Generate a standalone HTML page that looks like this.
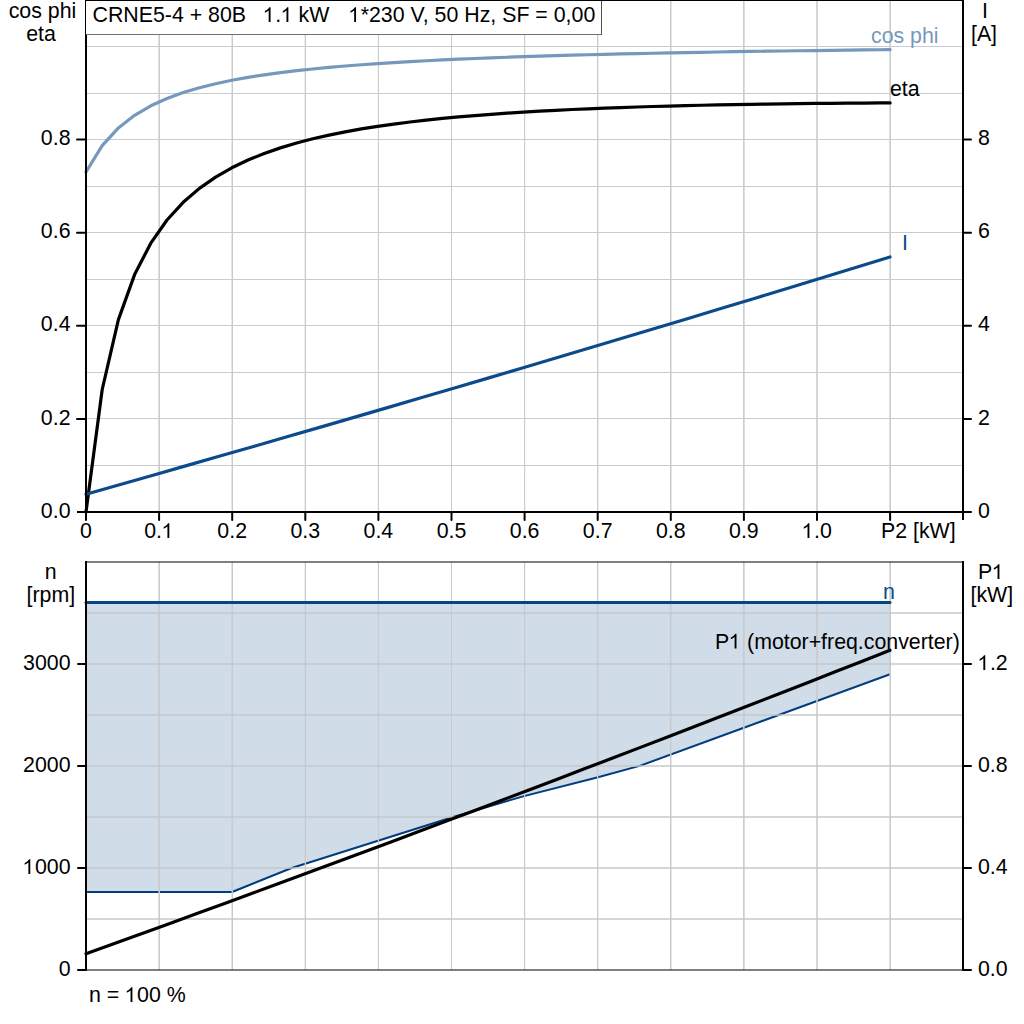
<!DOCTYPE html>
<html><head><meta charset="utf-8"><style>
html,body{margin:0;padding:0;background:#fff;width:1024px;height:1024px;overflow:hidden}
svg{display:block}
text{font-family:"Liberation Sans", sans-serif;font-size:21.33px;fill:#000}
.o{fill-opacity:0}
</style></head><body>
<svg width="1024" height="1024" viewBox="0 0 1024 1024">
<rect width="1024" height="1024" fill="#fff"/>
<line x1="158.5" y1="0" x2="158.5" y2="511" stroke="#c8cbcf" stroke-opacity="0.64" stroke-width="1"/>
<line x1="159.5" y1="0" x2="159.5" y2="511" stroke="#c8cbcf" stroke-opacity="0.96" stroke-width="1"/>
<line x1="231.5" y1="0" x2="231.5" y2="511" stroke="#c8cbcf" stroke-opacity="0.48" stroke-width="1"/>
<line x1="232.5" y1="0" x2="232.5" y2="511" stroke="#c8cbcf" stroke-opacity="1.00" stroke-width="1"/>
<line x1="304.5" y1="0" x2="304.5" y2="511" stroke="#c8cbcf" stroke-opacity="0.32" stroke-width="1"/>
<line x1="305.5" y1="0" x2="305.5" y2="511" stroke="#c8cbcf" stroke-opacity="1.00" stroke-width="1"/>
<line x1="377.5" y1="0" x2="377.5" y2="511" stroke="#c8cbcf" stroke-opacity="0.16" stroke-width="1"/>
<line x1="378.5" y1="0" x2="378.5" y2="511" stroke="#c8cbcf" stroke-opacity="1.00" stroke-width="1"/>
<line x1="451.5" y1="0" x2="451.5" y2="511" stroke="#c8cbcf" stroke-opacity="1.00" stroke-width="1"/>
<line x1="524.5" y1="0" x2="524.5" y2="511" stroke="#c8cbcf" stroke-opacity="1.00" stroke-width="1"/>
<line x1="525.5" y1="0" x2="525.5" y2="511" stroke="#c8cbcf" stroke-opacity="0.16" stroke-width="1"/>
<line x1="597.5" y1="0" x2="597.5" y2="511" stroke="#c8cbcf" stroke-opacity="1.00" stroke-width="1"/>
<line x1="598.5" y1="0" x2="598.5" y2="511" stroke="#c8cbcf" stroke-opacity="0.32" stroke-width="1"/>
<line x1="670.5" y1="0" x2="670.5" y2="511" stroke="#c8cbcf" stroke-opacity="1.00" stroke-width="1"/>
<line x1="671.5" y1="0" x2="671.5" y2="511" stroke="#c8cbcf" stroke-opacity="0.48" stroke-width="1"/>
<line x1="743.5" y1="0" x2="743.5" y2="511" stroke="#c8cbcf" stroke-opacity="0.96" stroke-width="1"/>
<line x1="744.5" y1="0" x2="744.5" y2="511" stroke="#c8cbcf" stroke-opacity="0.64" stroke-width="1"/>
<line x1="816.5" y1="0" x2="816.5" y2="511" stroke="#c8cbcf" stroke-opacity="0.80" stroke-width="1"/>
<line x1="817.5" y1="0" x2="817.5" y2="511" stroke="#c8cbcf" stroke-opacity="0.80" stroke-width="1"/>
<line x1="889.5" y1="0" x2="889.5" y2="511" stroke="#c8cbcf" stroke-opacity="0.64" stroke-width="1"/>
<line x1="890.5" y1="0" x2="890.5" y2="511" stroke="#c8cbcf" stroke-opacity="0.96" stroke-width="1"/>
<line x1="87" y1="465.5" x2="962" y2="465.5" stroke="#c8cbcf" stroke-width="1"/>
<line x1="87" y1="418.5" x2="962" y2="418.5" stroke="#c8cbcf" stroke-width="1"/>
<line x1="87" y1="372.5" x2="962" y2="372.5" stroke="#c8cbcf" stroke-width="1"/>
<line x1="87" y1="325.5" x2="962" y2="325.5" stroke="#c8cbcf" stroke-width="1"/>
<line x1="87" y1="279.5" x2="962" y2="279.5" stroke="#c8cbcf" stroke-width="1"/>
<line x1="87" y1="232.5" x2="962" y2="232.5" stroke="#c8cbcf" stroke-width="1"/>
<line x1="87" y1="186.5" x2="962" y2="186.5" stroke="#c8cbcf" stroke-width="1"/>
<line x1="87" y1="139.5" x2="962" y2="139.5" stroke="#c8cbcf" stroke-width="1"/>
<line x1="87" y1="93.5" x2="962" y2="93.5" stroke="#c8cbcf" stroke-width="1"/>
<line x1="87" y1="46.5" x2="962" y2="46.5" stroke="#c8cbcf" stroke-width="1"/>
<polyline points="86.00,172.02 102.20,145.56 118.40,127.90 134.60,115.28 150.80,105.80 167.00,98.44 183.20,92.54 199.40,87.72 215.60,83.70 231.80,80.30 248.00,77.38 264.20,74.86 280.40,72.65 296.60,70.70 312.80,68.97 329.00,67.42 345.20,66.03 361.40,64.77 377.60,63.63 393.80,62.59 410.00,61.63 426.20,60.75 442.40,59.94 458.60,59.19 474.80,58.50 491.00,57.85 507.20,57.25 523.40,56.68 539.60,56.16 555.80,55.66 572.00,55.19 588.20,54.76 604.40,54.34 620.60,53.95 636.80,53.58 653.00,53.23 669.20,52.90 685.40,52.58 701.60,52.28 717.80,52.00 734.00,51.72 750.20,51.46 766.40,51.21 782.60,50.98 798.80,50.75 815.00,50.53 831.20,50.32 847.40,50.12 863.60,49.93 879.80,49.75 890.10,49.63" fill="none" stroke="#7699bb" stroke-width="3.2" stroke-linejoin="round" stroke-linecap="round"/>
<polyline points="86.00,512.00 102.20,389.51 118.40,319.66 134.60,274.59 150.80,243.16 167.00,220.03 183.20,202.32 199.40,188.35 215.60,177.08 231.80,167.80 248.00,160.05 264.20,153.49 280.40,147.88 296.60,143.03 312.80,138.80 329.00,135.10 345.20,131.84 361.40,128.94 377.60,126.37 393.80,124.06 410.00,121.99 426.20,120.13 442.40,118.45 458.60,116.92 474.80,115.54 491.00,114.29 507.20,113.15 523.40,112.11 539.60,111.16 555.80,110.30 572.00,109.51 588.20,108.79 604.40,108.13 620.60,107.53 636.80,106.98 653.00,106.48 669.20,106.03 685.40,105.61 701.60,105.23 717.80,104.89 734.00,104.58 750.20,104.30 766.40,104.05 782.60,103.83 798.80,103.63 815.00,103.45 831.20,103.30 847.40,103.16 863.60,103.05 879.80,102.95 890.10,102.90" fill="none" stroke="#000" stroke-width="3.2" stroke-linejoin="round" stroke-linecap="round"/>
<polyline points="86.00,494.21 119.50,484.73 153.00,475.21 186.50,465.66 220.00,456.08 253.50,446.45 287.00,436.80 320.50,427.11 354.00,417.38 387.50,407.62 421.00,397.82 454.50,387.99 488.00,378.12 521.50,368.22 555.00,358.28 588.50,348.31 622.00,338.30 655.50,328.26 689.00,318.18 722.50,308.07 756.00,297.92 789.50,287.74 823.00,277.52 856.50,267.27 890.00,256.98" fill="none" stroke="#0b4a8b" stroke-width="3.2" stroke-linecap="round" stroke-linejoin="round"/>
<line x1="86" y1="0" x2="86" y2="520" stroke="#000" stroke-width="2"/>
<line x1="963" y1="0" x2="963" y2="520" stroke="#000" stroke-width="2"/>
<line x1="77" y1="512" x2="971" y2="512" stroke="#000" stroke-width="2"/>
<line x1="86" y1="0.5" x2="963" y2="0.5" stroke="#000" stroke-width="1"/>
<line x1="77" y1="418.9" x2="86" y2="418.9" stroke="#000" stroke-width="2" stroke-linecap="round"/>
<line x1="77" y1="325.8" x2="86" y2="325.8" stroke="#000" stroke-width="2" stroke-linecap="round"/>
<line x1="77" y1="232.7" x2="86" y2="232.7" stroke="#000" stroke-width="2" stroke-linecap="round"/>
<line x1="77" y1="139.6" x2="86" y2="139.6" stroke="#000" stroke-width="2" stroke-linecap="round"/>
<text x="70.5" y="518" text-anchor="end">0.0</text>
<text x="70.5" y="425" text-anchor="end">0.2</text>
<text x="70.5" y="331" text-anchor="end">0.4</text>
<text x="70.5" y="238" text-anchor="end">0.6</text>
<text x="70.5" y="145" text-anchor="end">0.8</text>
<line x1="963" y1="512.0" x2="971" y2="512.0" stroke="#000" stroke-width="2" stroke-linecap="round"/>
<text x="978" y="518">0</text>
<line x1="963" y1="418.9" x2="971" y2="418.9" stroke="#000" stroke-width="2" stroke-linecap="round"/>
<text x="978" y="425">2</text>
<line x1="963" y1="325.8" x2="971" y2="325.8" stroke="#000" stroke-width="2" stroke-linecap="round"/>
<text x="978" y="331">4</text>
<line x1="963" y1="232.7" x2="971" y2="232.7" stroke="#000" stroke-width="2" stroke-linecap="round"/>
<text x="978" y="238">6</text>
<line x1="963" y1="139.6" x2="971" y2="139.6" stroke="#000" stroke-width="2" stroke-linecap="round"/>
<text x="978" y="145">8</text>
<line x1="86.00" y1="512" x2="86.00" y2="520" stroke="#000" stroke-width="2" stroke-linecap="round"/>
<text x="86.00" y="538" text-anchor="middle">0</text>
<line x1="159.10" y1="512" x2="159.10" y2="520" stroke="#000" stroke-width="2" stroke-linecap="round"/>
<text x="159.10" y="538" text-anchor="middle">0.<tspan class="o">1</tspan></text>
<line x1="232.20" y1="512" x2="232.20" y2="520" stroke="#000" stroke-width="2" stroke-linecap="round"/>
<text x="232.20" y="538" text-anchor="middle">0.2</text>
<line x1="305.30" y1="512" x2="305.30" y2="520" stroke="#000" stroke-width="2" stroke-linecap="round"/>
<text x="305.30" y="538" text-anchor="middle">0.3</text>
<line x1="378.40" y1="512" x2="378.40" y2="520" stroke="#000" stroke-width="2" stroke-linecap="round"/>
<text x="378.40" y="538" text-anchor="middle">0.4</text>
<line x1="451.50" y1="512" x2="451.50" y2="520" stroke="#000" stroke-width="2" stroke-linecap="round"/>
<text x="451.50" y="538" text-anchor="middle">0.5</text>
<line x1="524.60" y1="512" x2="524.60" y2="520" stroke="#000" stroke-width="2" stroke-linecap="round"/>
<text x="524.60" y="538" text-anchor="middle">0.6</text>
<line x1="597.70" y1="512" x2="597.70" y2="520" stroke="#000" stroke-width="2" stroke-linecap="round"/>
<text x="597.70" y="538" text-anchor="middle">0.7</text>
<line x1="670.80" y1="512" x2="670.80" y2="520" stroke="#000" stroke-width="2" stroke-linecap="round"/>
<text x="670.80" y="538" text-anchor="middle">0.8</text>
<line x1="743.90" y1="512" x2="743.90" y2="520" stroke="#000" stroke-width="2" stroke-linecap="round"/>
<text x="743.90" y="538" text-anchor="middle">0.9</text>
<line x1="817.00" y1="512" x2="817.00" y2="520" stroke="#000" stroke-width="2" stroke-linecap="round"/>
<text x="817.00" y="538" text-anchor="middle"><tspan class="o">1</tspan>.0</text>
<line x1="890.10" y1="512" x2="890.10" y2="520" stroke="#000" stroke-width="2" stroke-linecap="round"/>
<text x="881" y="538">P2 [kW]</text>
<text x="871" y="43" style="fill:#7699bb">cos phi</text>
<text x="890" y="96">eta</text>
<text x="902" y="250" style="fill:#0b4a8b">I</text>
<text x="42.5" y="18" text-anchor="middle">cos phi</text>
<text x="41" y="41" text-anchor="middle">eta</text>
<text x="985" y="18" text-anchor="middle">I</text>
<text x="984" y="41" text-anchor="middle">[A]</text>
<rect x="86" y="0.5" width="516" height="33.5" fill="#fff" stroke="none"/>
<line x1="86" y1="34.5" x2="602" y2="34.5" stroke="#707070" stroke-width="1"/>
<line x1="601.5" y1="0" x2="601.5" y2="35" stroke="#505050" stroke-width="1"/>
<line x1="86" y1="0.5" x2="602" y2="0.5" stroke="#000" stroke-width="1"/>
<text x="92.5" y="22">CRNE5-4 + 80B</text>
<text x="263.3" y="22"><tspan class="o">1</tspan>.<tspan class="o">1</tspan></text>
<text x="298.6" y="22">kW</text>
<text x="348.8" y="22"><tspan class="o">1</tspan>*230 V, 50 Hz, SF = 0,00</text>
<polygon points="86,602.5 890,602.5 890,674.3 640.5,765.6 598,777.3 524,796.1 451.6,817.5 291,868.3 232,892 86,892" fill="#d0dce8"/>
<polyline points="86,892 232,892 291,868.3 451.6,817.5 524,796.1 598,777.3 640.5,765.6 890,674.3" fill="none" stroke="#003d7d" stroke-width="2" stroke-linejoin="round"/>
<line x1="158.5" y1="562" x2="158.5" y2="970" stroke="#c8cacd" stroke-opacity="0.64" stroke-width="1"/>
<line x1="159.5" y1="562" x2="159.5" y2="970" stroke="#c8cacd" stroke-opacity="0.96" stroke-width="1"/>
<line x1="231.5" y1="562" x2="231.5" y2="970" stroke="#c8cacd" stroke-opacity="0.48" stroke-width="1"/>
<line x1="232.5" y1="562" x2="232.5" y2="970" stroke="#c8cacd" stroke-opacity="1.00" stroke-width="1"/>
<line x1="304.5" y1="562" x2="304.5" y2="970" stroke="#c8cacd" stroke-opacity="0.32" stroke-width="1"/>
<line x1="305.5" y1="562" x2="305.5" y2="970" stroke="#c8cacd" stroke-opacity="1.00" stroke-width="1"/>
<line x1="377.5" y1="562" x2="377.5" y2="970" stroke="#c8cacd" stroke-opacity="0.16" stroke-width="1"/>
<line x1="378.5" y1="562" x2="378.5" y2="970" stroke="#c8cacd" stroke-opacity="1.00" stroke-width="1"/>
<line x1="451.5" y1="562" x2="451.5" y2="970" stroke="#c8cacd" stroke-opacity="1.00" stroke-width="1"/>
<line x1="524.5" y1="562" x2="524.5" y2="970" stroke="#c8cacd" stroke-opacity="1.00" stroke-width="1"/>
<line x1="525.5" y1="562" x2="525.5" y2="970" stroke="#c8cacd" stroke-opacity="0.16" stroke-width="1"/>
<line x1="597.5" y1="562" x2="597.5" y2="970" stroke="#c8cacd" stroke-opacity="1.00" stroke-width="1"/>
<line x1="598.5" y1="562" x2="598.5" y2="970" stroke="#c8cacd" stroke-opacity="0.32" stroke-width="1"/>
<line x1="670.5" y1="562" x2="670.5" y2="970" stroke="#c8cacd" stroke-opacity="1.00" stroke-width="1"/>
<line x1="671.5" y1="562" x2="671.5" y2="970" stroke="#c8cacd" stroke-opacity="0.48" stroke-width="1"/>
<line x1="743.5" y1="562" x2="743.5" y2="970" stroke="#c8cacd" stroke-opacity="0.96" stroke-width="1"/>
<line x1="744.5" y1="562" x2="744.5" y2="970" stroke="#c8cacd" stroke-opacity="0.64" stroke-width="1"/>
<line x1="816.5" y1="562" x2="816.5" y2="970" stroke="#c8cacd" stroke-opacity="0.80" stroke-width="1"/>
<line x1="817.5" y1="562" x2="817.5" y2="970" stroke="#c8cacd" stroke-opacity="0.80" stroke-width="1"/>
<line x1="889.5" y1="562" x2="889.5" y2="970" stroke="#c8cacd" stroke-opacity="0.64" stroke-width="1"/>
<line x1="890.5" y1="562" x2="890.5" y2="970" stroke="#c8cacd" stroke-opacity="0.96" stroke-width="1"/>
<line x1="87" y1="919.0" x2="962" y2="919.0" stroke="rgb(197,198,202)" stroke-opacity="0.72" stroke-width="2"/>
<line x1="87" y1="868.0" x2="962" y2="868.0" stroke="rgb(197,198,202)" stroke-opacity="0.72" stroke-width="2"/>
<line x1="87" y1="817.0" x2="962" y2="817.0" stroke="rgb(197,198,202)" stroke-opacity="0.72" stroke-width="2"/>
<line x1="87" y1="766.0" x2="962" y2="766.0" stroke="rgb(197,198,202)" stroke-opacity="0.72" stroke-width="2"/>
<line x1="87" y1="715.0" x2="962" y2="715.0" stroke="rgb(197,198,202)" stroke-opacity="0.72" stroke-width="2"/>
<line x1="87" y1="664.0" x2="962" y2="664.0" stroke="rgb(197,198,202)" stroke-opacity="0.72" stroke-width="2"/>
<line x1="87" y1="613.0" x2="962" y2="613.0" stroke="rgb(197,198,202)" stroke-opacity="0.72" stroke-width="2"/>
<line x1="86" y1="602.5" x2="890" y2="602.5" stroke="#054583" stroke-width="3" stroke-linecap="round"/>
<polyline points="86.00,953.81 113.72,943.80 141.45,933.76 169.17,923.68 196.90,913.57 224.62,903.43 252.34,893.25 280.07,883.04 307.79,872.80 335.52,862.53 363.24,852.23 390.97,841.89 418.69,831.52 446.41,821.11 474.14,810.68 501.86,800.21 529.59,789.71 557.31,779.18 585.03,768.61 612.76,758.01 640.48,747.38 668.21,736.72 695.93,726.02 723.66,715.29 751.38,704.53 779.10,693.74 806.83,682.91 834.55,672.05 862.28,661.16 890.00,650.24" fill="none" stroke="#000" stroke-width="3.2" stroke-linecap="round" stroke-linejoin="round"/>
<line x1="86" y1="562" x2="963" y2="562" stroke="#000" stroke-width="1.15"/>
<line x1="86" y1="970" x2="963" y2="970" stroke="#000" stroke-width="1.1"/>
<line x1="86" y1="561" x2="86" y2="970" stroke="#000" stroke-width="2"/>
<line x1="963" y1="561" x2="963" y2="970" stroke="#000" stroke-width="2"/>
<line x1="78" y1="970.0" x2="86" y2="970.0" stroke="#000" stroke-width="2" stroke-linecap="round"/>
<text x="70.5" y="976" text-anchor="end">0</text>
<line x1="78" y1="868.0" x2="86" y2="868.0" stroke="#000" stroke-width="2" stroke-linecap="round"/>
<text x="70.5" y="874" text-anchor="end"><tspan class="o">1</tspan>000</text>
<line x1="78" y1="766.0" x2="86" y2="766.0" stroke="#000" stroke-width="2" stroke-linecap="round"/>
<text x="70.5" y="772" text-anchor="end">2000</text>
<line x1="78" y1="664.0" x2="86" y2="664.0" stroke="#000" stroke-width="2" stroke-linecap="round"/>
<text x="70.5" y="670" text-anchor="end">3000</text>
<line x1="963" y1="970.0" x2="971" y2="970.0" stroke="#000" stroke-width="2" stroke-linecap="round"/>
<text x="978" y="976">0.0</text>
<line x1="963" y1="868.0" x2="971" y2="868.0" stroke="#000" stroke-width="2" stroke-linecap="round"/>
<text x="978" y="874">0.4</text>
<line x1="963" y1="766.0" x2="971" y2="766.0" stroke="#000" stroke-width="2" stroke-linecap="round"/>
<text x="978" y="772">0.8</text>
<line x1="963" y1="664.0" x2="971" y2="664.0" stroke="#000" stroke-width="2" stroke-linecap="round"/>
<text x="978" y="670"><tspan class="o">1</tspan>.2</text>
<text x="50.8" y="579" text-anchor="middle">n</text>
<text x="50.8" y="602" text-anchor="middle">[rpm]</text>
<text x="991" y="579" text-anchor="middle">P<tspan class="o">1</tspan></text>
<text x="991.8" y="602" text-anchor="middle">[kW]</text>
<text x="883" y="598.5" style="fill:#0b4a8b">n</text>
<text x="715" y="648.5">P<tspan class="o">1</tspan> (motor+freq.converter)</text>
<text x="89" y="1002">n = <tspan class="o">1</tspan>00 %</text>
<path d="M696 0H516V1098Q451 1038 345 979Q239 920 155 890V1057Q306 1125 419 1221Q532 1318 579 1409H696Z" transform="translate(162.06,538.00) scale(0.010415,-0.010415)" fill="rgb(0, 0, 0)"/>
<path d="M696 0H516V1098Q451 1038 345 979Q239 920 155 890V1057Q306 1125 419 1221Q532 1318 579 1409H696Z" transform="translate(802.16,538.00) scale(0.010415,-0.010415)" fill="rgb(0, 0, 0)"/>
<path d="M696 0H516V1098Q451 1038 345 979Q239 920 155 890V1057Q306 1125 419 1221Q532 1318 579 1409H696Z" transform="translate(263.30,22.00) scale(0.010415,-0.010415)" fill="rgb(0, 0, 0)"/>
<path d="M696 0H516V1098Q451 1038 345 979Q239 920 155 890V1057Q306 1125 419 1221Q532 1318 579 1409H696Z" transform="translate(281.11,22.00) scale(0.010415,-0.010415)" fill="rgb(0, 0, 0)"/>
<path d="M696 0H516V1098Q451 1038 345 979Q239 920 155 890V1057Q306 1125 419 1221Q532 1318 579 1409H696Z" transform="translate(348.80,22.00) scale(0.010415,-0.010415)" fill="rgb(0, 0, 0)"/>
<path d="M696 0H516V1098Q451 1038 345 979Q239 920 155 890V1057Q306 1125 419 1221Q532 1318 579 1409H696Z" transform="translate(23.03,874.00) scale(0.010415,-0.010415)" fill="rgb(0, 0, 0)"/>
<path d="M696 0H516V1098Q451 1038 345 979Q239 920 155 890V1057Q306 1125 419 1221Q532 1318 579 1409H696Z" transform="translate(978.00,670.00) scale(0.010415,-0.010415)" fill="rgb(0, 0, 0)"/>
<path d="M696 0H516V1098Q451 1038 345 979Q239 920 155 890V1057Q306 1125 419 1221Q532 1318 579 1409H696Z" transform="translate(992.18,579.00) scale(0.010415,-0.010415)" fill="rgb(0, 0, 0)"/>
<path d="M696 0H516V1098Q451 1038 345 979Q239 920 155 890V1057Q306 1125 419 1221Q532 1318 579 1409H696Z" transform="translate(729.23,648.50) scale(0.010415,-0.010415)" fill="rgb(0, 0, 0)"/>
<path d="M696 0H516V1098Q451 1038 345 979Q239 920 155 890V1057Q306 1125 419 1221Q532 1318 579 1409H696Z" transform="translate(125.17,1002.00) scale(0.010415,-0.010415)" fill="rgb(0, 0, 0)"/>
</svg>
</body></html>
